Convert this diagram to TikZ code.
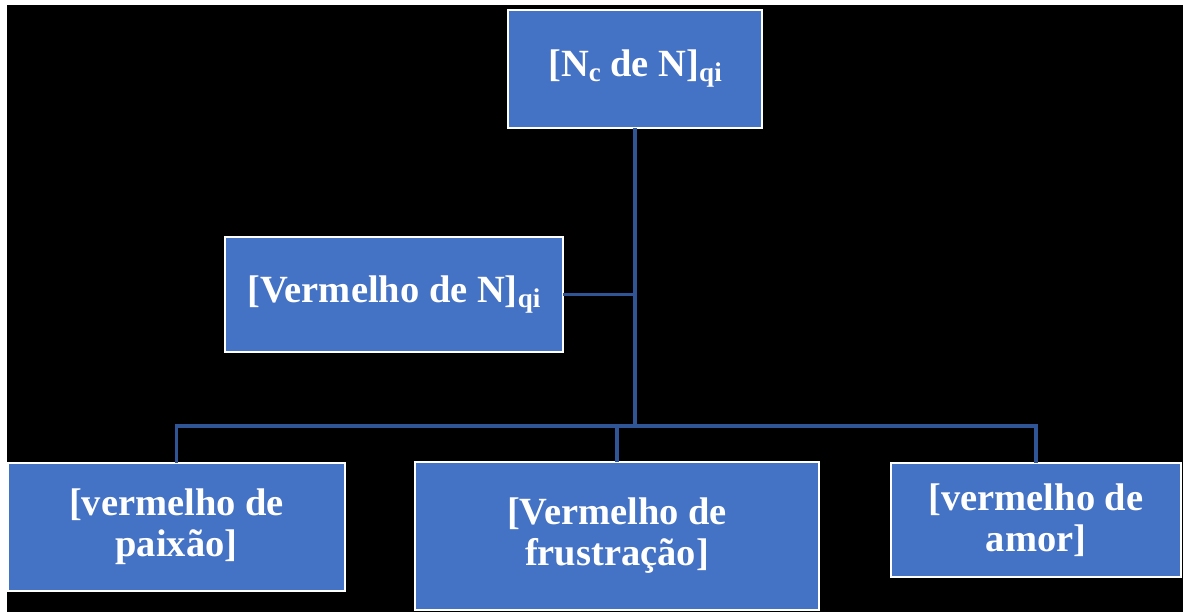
\documentclass[tikz,border=0pt]{standalone}
\usepackage{fontspec}
\setmainfont{Liberation Serif}
\definecolor{boxblue}{HTML}{4472C4}
\definecolor{lineblue}{HTML}{2F5597}
\newcommand{\mysub}[1]{\raisebox{-5pt}{\fontsize{27}{27}\selectfont #1}}
\begin{document}
\begin{tikzpicture}[x=1pt,y=-1pt,
  box/.style={draw=white,line width=2pt,fill=boxblue,text=white,
    font=\bfseries\fontsize{38.5}{41}\selectfont,align=center,
    inner sep=0pt,outer sep=0pt},
  conn/.style={draw=lineblue,line width=3.5pt}]
\fill[white] (0,0) rectangle (1183,612);
\fill[black] (7,5) rectangle (1183,612);
\useasboundingbox (0,0) rectangle (1183,612);
\node[box,minimum width=254pt,minimum height=118pt] (top) at (635,69) {[N\mysub{c} de N]\mysub{qi}};
\node[box,minimum width=338pt,minimum height=115pt] (mid) at (394,294.5) {[Vermelho de N]\mysub{qi}};
\node[box,minimum width=337pt,minimum height=128pt] (left) at (176.5,527) {[vermelho de\\paixão]};
\node[box,minimum width=404pt,minimum height=148pt] (center) at (617,536) {[Vermelho de\\frustração]};
\node[box,minimum width=290pt,minimum height=114pt] (right) at (1036,520) {[vermelho de\\amor]};
\coordinate (bus) at (635,426);
\draw[conn] (top.south) -- (bus);
\draw[conn] (mid.east) -- (mid.east -| top.south);
\draw[conn] (left.north) |- (bus) -| (right.north);
\draw[conn] (center.north) -- (center.north |- bus);
\end{tikzpicture}
\end{document}
